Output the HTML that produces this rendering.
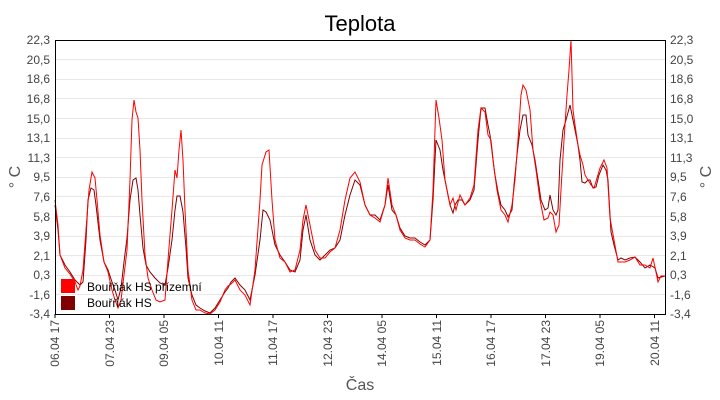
<!DOCTYPE html>
<html><head><meta charset="utf-8"><style>
body{margin:0;background:#fff;}
svg{display:block;font-family:"Liberation Sans",sans-serif;}
</style></head><body>
<svg width="720" height="400" viewBox="0 0 720 400">
<text x="360" y="31" text-anchor="middle" font-size="22" fill="#000">Teplota</text>
<g stroke="#e8e8e8" stroke-width="1">
<line x1="55" x2="665" y1="59.5" y2="59.5"/><line x1="55" x2="665" y1="79.5" y2="79.5"/><line x1="55" x2="665" y1="98.5" y2="98.5"/><line x1="55" x2="665" y1="118.5" y2="118.5"/><line x1="55" x2="665" y1="138.5" y2="138.5"/><line x1="55" x2="665" y1="157.5" y2="157.5"/><line x1="55" x2="665" y1="177.5" y2="177.5"/><line x1="55" x2="665" y1="196.5" y2="196.5"/><line x1="55" x2="665" y1="216.5" y2="216.5"/><line x1="55" x2="665" y1="236.5" y2="236.5"/><line x1="55" x2="665" y1="255.5" y2="255.5"/><line x1="55" x2="665" y1="275.5" y2="275.5"/><line x1="55" x2="665" y1="294.5" y2="294.5"/>
</g>
<g font-size="12" fill="#444" text-anchor="end">
<text x="50" y="44">22,3</text><text x="50" y="64">20,5</text><text x="50" y="83">18,6</text><text x="50" y="103">16,8</text><text x="50" y="123">15,0</text><text x="50" y="142">13,1</text><text x="50" y="162">11,3</text><text x="50" y="181">9,5</text><text x="50" y="201">7,6</text><text x="50" y="221">5,8</text><text x="50" y="240">3,9</text><text x="50" y="260">2,1</text><text x="50" y="279">0,3</text><text x="50" y="299">-1,6</text><text x="50" y="318">-3,4</text>
</g>
<g font-size="12" fill="#444" text-anchor="start">
<text x="670" y="44">22,3</text><text x="670" y="64">20,5</text><text x="670" y="83">18,6</text><text x="670" y="103">16,8</text><text x="670" y="123">15,0</text><text x="670" y="142">13,1</text><text x="670" y="162">11,3</text><text x="670" y="181">9,5</text><text x="670" y="201">7,6</text><text x="670" y="221">5,8</text><text x="670" y="240">3,9</text><text x="670" y="260">2,1</text><text x="670" y="279">0,3</text><text x="670" y="299">-1,6</text><text x="670" y="318">-3,4</text>
</g>
<text transform="translate(20,177) rotate(-90)" font-size="16" fill="#555" text-anchor="middle">° C</text>
<text transform="translate(711,177) rotate(-90)" font-size="16" fill="#555" text-anchor="middle">° C</text>
<g font-size="12" fill="#444" text-anchor="end">
<text transform="translate(59,320) rotate(-90)">06.04 17</text>
<text transform="translate(114,320) rotate(-90)">07.04 23</text>
<text transform="translate(168,320) rotate(-90)">09.04 05</text>
<text transform="translate(223,320) rotate(-90)">10.04 11</text>
<text transform="translate(277,320) rotate(-90)">11.04 17</text>
<text transform="translate(332,320) rotate(-90)">12.04 23</text>
<text transform="translate(386,320) rotate(-90)">14.04 05</text>
<text transform="translate(441,320) rotate(-90)">15.04 11</text>
<text transform="translate(495,320) rotate(-90)">16.04 17</text>
<text transform="translate(550,320) rotate(-90)">17.04 23</text>
<text transform="translate(604,320) rotate(-90)">19.04 05</text>
<text transform="translate(659,320) rotate(-90)">20.04 11</text>
</g>
<text x="360" y="390" font-size="16" fill="#555" text-anchor="middle">Čas</text>
<g stroke="#000" stroke-width="1">
<line x1="55" x2="55" y1="314" y2="318"/><line x1="109.5" x2="109.5" y1="314" y2="318"/><line x1="164" x2="164" y1="314" y2="318"/><line x1="218.5" x2="218.5" y1="314" y2="318"/><line x1="273" x2="273" y1="314" y2="318"/><line x1="327.5" x2="327.5" y1="314" y2="318"/><line x1="382" x2="382" y1="314" y2="318"/><line x1="436.5" x2="436.5" y1="314" y2="318"/><line x1="491" x2="491" y1="314" y2="318"/><line x1="545.5" x2="545.5" y1="314" y2="318"/><line x1="600" x2="600" y1="314" y2="318"/><line x1="654.5" x2="654.5" y1="314" y2="318"/>
</g>
<polyline fill="none" stroke="#800000" stroke-width="1" points="55,205 58,230 60,255 65,265 70,272 75,280 80,285 83,282 86,240 88,200 91,188 94,190 96,205 100,240 104,262 108,270 112,282 115,290 118,300 121,288 124,262 127,238 130,200 133,180 136,178 138,190 140,215 143,248 146,265 150,272 155,278 160,283 165,285 168,268 172,240 175,210 177,196 180,196 183,212 186,248 188,278 192,295 196,305 200,308 205,311 210,313 215,308 220,300 225,292 228,288 231,282 235,278 240,285 245,290 250,300 255,275 260,240 263,210 266,212 270,220 275,245 280,255 285,262 290,270 295,272 300,260 303,230 306,215 310,240 315,255 320,260 325,255 330,250 335,248 340,240 345,215 350,195 355,180 360,185 365,205 370,215 375,215 380,220 385,205 388,185 392,210 396,215 400,228 405,236 410,238 415,238 420,242 425,245 430,240 433,200 436,140 440,150 443,170 447,190 450,205 453,213 455,205 458,200 462,200 465,205 470,200 474,190 478,140 481,108 485,108 488,125 490,135 493,160 495,175 498,192 501,205 505,210 508,217 512,210 514,185 517,155 520,130 523,115 526,115 528,135 532,145 535,160 538,180 541,200 545,210 548,208 550,195 553,210 556,215 558,210 560,160 563,130 566,120 570,105 572,115 575,130 578,145 580,160 582,182 585,183 588,180 590,180 593,188 596,187 599,175 603,165 606,170 608,180 611,232 614,245 618,260 621,258 625,260 630,258 635,257 640,262 645,268 650,265 655,268 658,278 665,276"/>
<polyline fill="none" stroke="#ff0000" stroke-width="1" points="55,200 58,225 60,255 65,268 70,274 75,282 78,290 80,286 83,270 86,230 89,190 92,172 95,178 97,200 100,235 104,262 108,272 112,290 115,300 118,308 121,300 124,275 127,250 130,180 132,120 134,100 136,112 138,118 140,150 142,200 145,255 148,278 152,290 156,300 160,302 165,300 168,260 172,210 175,170 177,178 179,150 181,130 183,160 185,210 188,270 192,300 196,310 200,310 205,313 210,314 215,310 220,302 225,290 228,286 231,284 235,280 240,290 245,295 250,305 255,270 260,200 262,165 266,152 269,150 272,200 275,240 280,258 285,262 290,272 295,270 300,250 303,220 306,205 310,225 315,250 320,258 325,258 330,252 335,248 340,230 345,200 350,178 355,172 360,182 365,205 370,215 375,218 380,222 385,205 388,178 392,205 396,215 400,230 405,238 410,240 415,240 420,244 425,247 430,240 433,190 436,100 439,118 442,140 445,180 450,205 453,198 456,210 460,195 465,205 470,198 474,185 478,130 481,108 485,112 488,135 491,140 494,168 497,190 501,210 505,215 508,222 512,205 515,180 518,140 521,95 523,85 526,90 530,110 533,150 536,170 540,200 544,220 548,218 550,212 553,215 556,232 559,225 561,190 564,140 567,95 569,70 571,40 573,110 575,125 578,145 580,155 583,165 585,175 588,180 591,185 594,188 597,178 600,168 604,160 607,168 610,218 614,240 618,262 621,262 625,262 630,260 635,257 640,265 645,265 650,268 653,258 656,272 658,282 661,276 665,276"/>
<rect x="55.5" y="40.5" width="610" height="274" fill="none" stroke="#000" stroke-width="1"/>
<rect x="61" y="279" width="14" height="14" fill="#ff0000"/>
<rect x="61" y="296" width="14" height="14" fill="#800000"/>
<text x="87" y="291" font-size="12" fill="#000">Bouřňák HS přízemní</text>
<text x="87" y="307" font-size="12" fill="#000">Bouřňák HS</text>
</svg>
</body></html>
